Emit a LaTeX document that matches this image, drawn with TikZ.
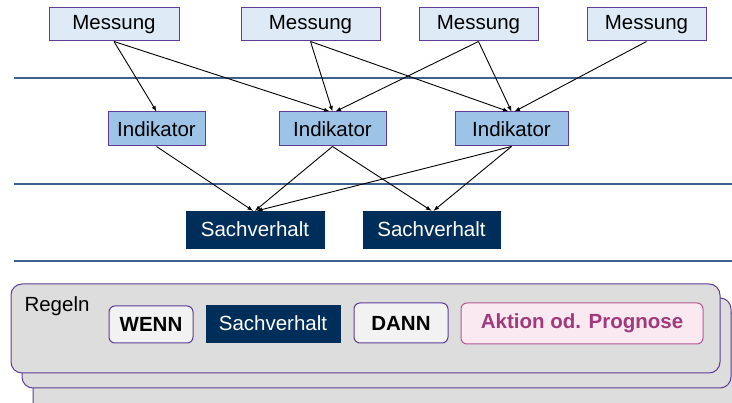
\documentclass[tikz,border=0pt]{standalone}
\usepackage{fontspec}
\setmainfont{Liberation Sans}
\usepackage{tikz}

\definecolor{messfill}{RGB}{222,235,247}
\definecolor{indfill}{RGB}{157,195,230}
\definecolor{navy}{RGB}{0,46,90}
\definecolor{lila}{RGB}{95,60,150}
\definecolor{linie}{RGB}{62,96,140}
\definecolor{grau}{RGB}{221,221,221}
\definecolor{hell}{RGB}{242,242,242}
\definecolor{rosa}{RGB}{251,233,241}
\definecolor{rosarand}{RGB}{180,90,145}
\definecolor{rosatext}{RGB}{160,58,122}

\tikzset{
  messung/.style={draw=lila,line width=1pt,fill=messfill,minimum height=33pt,inner sep=0pt,font=\fontsize{20.5}{24}\selectfont},
  indikator/.style={draw=lila,line width=1pt,fill=indfill,minimum height=34pt,inner sep=0pt,font=\fontsize{20.5}{24}\selectfont},
  sachverhalt/.style={draw=navy,fill=navy,text=white,minimum height=37pt,inner sep=0pt,font=\fontsize{20.5}{24}\selectfont},
  regelbox/.style={draw=lila,line width=1pt,fill=hell,rounded corners=6pt,minimum height=37pt,inner sep=0pt,font=\bfseries\fontsize{20.5}{24}\selectfont},
  pfeil/.style={-latex,line width=0.9pt},
  trenner/.style={draw=linie,line width=1.2pt},
  stapel/.style={draw=lila,line width=1pt,fill=grau,rounded corners=11pt}
}

\begin{document}
\begin{tikzpicture}[x=1pt,y=-1pt]
    \useasboundingbox (0,0) rectangle (732,403);
    \clip (0,0) rectangle (732,403);

    % separating lines
    \draw[trenner] (14,78) -- (732,78);
    \draw[trenner] (14,184) -- (732,184);
    \draw[trenner] (14,261) -- (732,261);

    % measurements
    \node[messung,minimum width=130pt] (m1) at (114,24.5) {Messung};
    \node[messung,minimum width=139pt] (m2) at (310.5,24.5) {Messung};
    \node[messung,minimum width=119pt] (m3) at (478.5,24.5) {Messung};
    \node[messung,minimum width=119pt] (m4) at (646.5,24.5) {Messung};

    % indicators
    \node[indikator,minimum width=97pt] (i1) at (156.5,129) {Indikator};
    \node[indikator,minimum width=107pt] (i2) at (332.5,129) {Indikator};
    \node[indikator,minimum width=113pt] (i3) at (511.5,129) {Indikator};

    % facts
    \node[sachverhalt,minimum width=138pt] (s1) at (255,229.5) {Sachverhalt};
    \node[sachverhalt,minimum width=137pt] (s2) at (431.5,229.5) {Sachverhalt};

    % measurement -> indicator
    \draw[pfeil] (m1.south) -- (i1.north);
    \draw[pfeil] (m1.south) -- ([xshift=-3pt]i2.north);
    \draw[pfeil] (m2.south) -- (i2.north);
    \draw[pfeil] (m2.south) -- ([xshift=-3pt]i3.north);
    \draw[pfeil] (m3.south) -- ([xshift=3pt]i2.north);
    \draw[pfeil] (m3.south) -- (i3.north);
    \draw[pfeil] (m4.south) -- ([xshift=3pt]i3.north);

    % indicator -> fact
    \draw[pfeil] (i1.south) -- ([xshift=-2pt]s1.north);
    \draw[pfeil] (i2.south) -- (s1.north);
    \draw[pfeil] (i3.south) -- ([xshift=2pt]s1.north);
    \draw[pfeil] (i2.south) -- (s2.north);
    \draw[pfeil] (i3.south) -- ([xshift=2pt]s2.north);

    % stack of rules
    \draw[stapel] (33,313) rectangle (742,413);
    \draw[stapel] (22,298) rectangle (731,388);
    \draw[stapel] (11,284) rectangle (720,373);

    \node[font=\fontsize{20.5}{24}\selectfont] (regeln) at (57,306) {Regeln};
    \node[regelbox,minimum width=84pt] (wenn) at (151,324.5) {WENN};
    \node[sachverhalt,minimum width=134pt] (sv) at (273,323.5) {Sachverhalt};
    \node[regelbox,minimum width=94pt,minimum height=40pt] (dann) at (401,323) {DANN};
    \node[regelbox,draw=rosarand,fill=rosa,text=rosatext,minimum width=242pt,minimum height=41pt] (aktion) at (582,323.5) {Aktion od. Prognose};
\end{tikzpicture}
\end{document}
